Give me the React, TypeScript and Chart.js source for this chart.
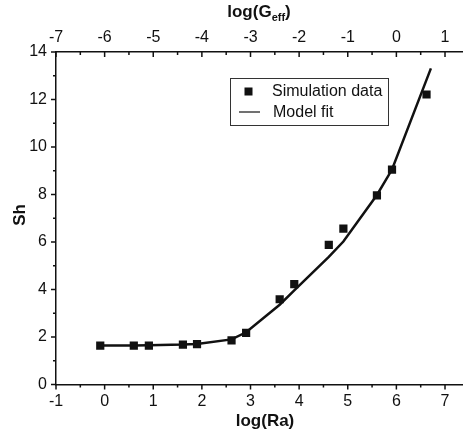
import React, { useEffect, useRef } from 'react';
import { Chart, registerables } from 'chart.js';

Chart.register(...registerables);

// Simulation data (squares)
const simLogRa = [-0.09, 0.6, 0.91, 1.61, 1.9, 2.61, 2.91, 3.6, 3.9, 4.61, 4.91, 5.6, 5.91, 6.62];
const simSh = [1.64, 1.64, 1.64, 1.68, 1.7, 1.86, 2.17, 3.59, 4.23, 5.88, 6.56, 7.96, 9.05, 12.21];
// Model fit (line)
const fitLogRa = [-0.09, 0.6, 0.91, 1.61, 1.9, 2.61, 2.91, 3.6, 3.9, 4.61, 4.91, 5.6, 5.91, 6.71];
const fitSh = [1.64, 1.64, 1.65, 1.68, 1.71, 1.9, 2.2, 3.36, 3.96, 5.37, 6.02, 7.98, 9.05, 13.31];
// Tick labels
const raTicks = [-1, 0, 1, 2, 3, 4, 5, 6, 7];
const geffTicks = [-7, -6, -5, -4, -3, -2, -1, 0, 1];
const shTicks = [0, 2, 4, 6, 8, 10, 12, 14];
const seriesNames = ['Simulation data', 'Model fit'];

const FONT = "'Liberation Sans', Arial, sans-serif";
const INK = '#111';

const decoPlugin = {
  id: 'deco',
  afterDraw(chart: any) {
    const { ctx, chartArea: a, scales } = chart;
    const sx = scales.x, sx2 = scales.x2, sy = scales.y;
    ctx.save();
    ctx.strokeStyle = INK;
    ctx.fillStyle = INK;
    ctx.lineWidth = 1.5;
    const MAJ = 5, MIN = 3;
    const tickLine = (x1: number, y1: number, x2: number, y2: number) => {
      ctx.beginPath(); ctx.moveTo(x1, y1); ctx.lineTo(x2, y2); ctx.stroke();
    };
    // bottom ticks (outward)
    raTicks.forEach((v) => {
      const px = sx.getPixelForValue(v);
      tickLine(px, a.bottom, px, a.bottom + MAJ);
      const m = sx.getPixelForValue(v + 0.5);
      if (m < a.right) tickLine(m, a.bottom, m, a.bottom + MIN);
    });
    // top ticks (inward)
    geffTicks.forEach((v) => {
      const px = sx2.getPixelForValue(v);
      tickLine(px, a.top, px, a.top + MAJ);
      const m = sx2.getPixelForValue(v + 0.5);
      if (m < a.right) tickLine(m, a.top, m, a.top + MIN);
    });
    // left ticks (outward)
    shTicks.forEach((v) => {
      const py = sy.getPixelForValue(v);
      tickLine(a.left, py, a.left - MAJ, py);
      if (v < 14) {
        const m = sy.getPixelForValue(v + 1);
        tickLine(a.left, m, a.left - MIN, m);
      }
    });

    // axis titles
    ctx.font = `bold 17px ${FONT}`;
    ctx.textAlign = 'center';
    ctx.textBaseline = 'alphabetic';
    ctx.fillText('log(Ra)', 265, 426);

    ctx.save();
    ctx.translate(25, 215);
    ctx.rotate(-Math.PI / 2);
    ctx.fillText('Sh', 0, 0);
    ctx.restore();

    // top title with subscript
    const big = `bold 17px ${FONT}`;
    const small = `bold 11px ${FONT}`;
    ctx.textAlign = 'left';
    ctx.font = big;
    const w1 = ctx.measureText('log(G').width;
    const w3 = ctx.measureText(')').width;
    ctx.font = small;
    const w2 = ctx.measureText('eff').width;
    let tx = 259 - (w1 + w2 + w3) / 2;
    ctx.font = big;
    ctx.fillText('log(G', tx, 17);
    tx += w1;
    ctx.font = small;
    ctx.fillText('eff', tx, 21);
    tx += w2;
    ctx.font = big;
    ctx.fillText(')', tx, 17);

    // legend
    ctx.lineWidth = 1;
    ctx.strokeStyle = '#333';
    ctx.strokeRect(230.5, 78.5, 158, 47);
    ctx.fillStyle = INK;
    ctx.fillRect(244.5, 87.5, 8, 8);
    ctx.strokeStyle = INK;
    ctx.lineWidth = 1.2;
    tickLine(239, 112, 260, 112);
    ctx.font = `16px ${FONT}`;
    ctx.textBaseline = 'middle';
    ctx.fillText(chart.data.datasets[0].label, 272, 92);
    ctx.fillText(chart.data.datasets[1].label, 273, 113);
    ctx.restore();
  },
};

export default function App() {
  const ref = useRef<HTMLCanvasElement>(null);
  useEffect(() => {
    const canvas = ref.current!;
    const tickFont = { family: FONT, size: 16 };
    const chart = new Chart(canvas, {
      type: 'scatter',
      data: {
        datasets: [
          {
            label: seriesNames[0],
            data: simLogRa.map((x, i) => ({ x, y: simSh[i] })),
            pointStyle: 'rect',
            pointRadius: 5.8,
            pointBorderWidth: 0,
            backgroundColor: INK,
            borderColor: INK,
            showLine: false,
            order: 0,
          },
          {
            label: seriesNames[1],
            data: fitLogRa.map((x, i) => ({ x, y: fitSh[i] })),
            showLine: true,
            pointRadius: 0,
            borderColor: INK,
            borderWidth: 2.5,
            tension: 0,
            order: 1,
          },
        ],
      },
      options: {
        animation: false,
        responsive: false,
        layout: { padding: 0, autoPadding: false },
        plugins: { legend: { display: false }, tooltip: { enabled: false } },
        scales: {
          x: {
            type: 'linear',
            position: 'bottom',
            min: -1,
            max: 7.37,
            afterBuildTicks: (s: any) => { s.ticks = raTicks.map((v) => ({ value: v })); },
            afterFit: (s: any) => { s.height = 52.5; s.paddingLeft = 0; s.paddingRight = 0; },
            ticks: { font: tickFont, color: INK, padding: 7, maxRotation: 0, autoSkip: false },
            grid: { display: false, drawTicks: false },
            border: { display: true, color: INK, width: 1.5 },
          },
          x2: {
            type: 'linear',
            position: 'top',
            min: -7,
            max: 1.37,
            afterBuildTicks: (s: any) => { s.ticks = geffTicks.map((v) => ({ value: v })); },
            afterFit: (s: any) => { s.height = 52; s.paddingLeft = 0; s.paddingRight = 0; },
            ticks: { font: tickFont, color: INK, padding: 5, maxRotation: 0, autoSkip: false },
            grid: { display: false, drawTicks: false },
            border: { display: true, color: INK, width: 1.5 },
          },
          y: {
            type: 'linear',
            position: 'left',
            min: 0,
            max: 14,
            afterBuildTicks: (s: any) => { s.ticks = shTicks.map((v) => ({ value: v })); },
            afterFit: (s: any) => { s.width = 56; s.paddingTop = 0; s.paddingBottom = 0; },
            ticks: { font: tickFont, color: INK, padding: 9 },
            grid: { display: false, drawTicks: false },
            border: { display: true, color: INK, width: 1.5 },
          },
        },
      },
      plugins: [decoPlugin],
    } as any);
    return () => chart.destroy();
  }, []);
  return (
    <div style={{ position: 'absolute', left: 0, top: 0, width: 463, height: 437, background: '#fff' }}>
      <canvas ref={ref} width={463} height={437} />
    </div>
  );
}
